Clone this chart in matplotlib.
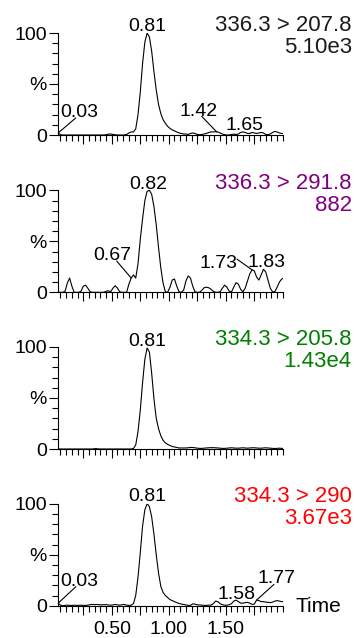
import numpy as np
import matplotlib
matplotlib.use('Agg')
import matplotlib.pyplot as plt
from matplotlib.ticker import MultipleLocator, FixedLocator

plt.rcParams['font.family'] = ['Liberation Sans', 'DejaVu Sans']

# ---------------- data ----------------
time = [0.03, 0.05, 0.07, 0.09, 0.11, 0.13, 0.15, 0.17, 0.19, 0.21,
        0.23, 0.25, 0.27, 0.29, 0.31, 0.33, 0.35, 0.37, 0.39, 0.41,
        0.43, 0.45, 0.47, 0.49, 0.51, 0.53, 0.55, 0.57, 0.59, 0.61,
        0.63, 0.65, 0.67, 0.69, 0.71, 0.73, 0.75, 0.77, 0.79, 0.81,
        0.83, 0.85, 0.87, 0.89, 0.91, 0.93, 0.95, 0.97, 0.99, 1.01,
        1.03, 1.05, 1.07, 1.09, 1.11, 1.13, 1.15, 1.17, 1.19, 1.21,
        1.23, 1.25, 1.27, 1.29, 1.31, 1.33, 1.35, 1.37, 1.39, 1.41,
        1.43, 1.45, 1.47, 1.49, 1.51, 1.53, 1.55, 1.57, 1.59, 1.61,
        1.63, 1.65, 1.67, 1.69, 1.71, 1.73, 1.75, 1.77, 1.79, 1.81,
        1.83, 1.85, 1.87, 1.89, 1.91, 1.93, 1.95, 1.97, 1.99, 2.01]

trace_207 = [2, 0.3, 0, 0, 0, 0, 0, 0, 0, 0,
             0, 0, 0, 0, 0, 0, 0, 0, 0, 0,
             0, 0.3, 0.8, 1, 0.6, 0.2, 0, 0, 0, 0,
             0.5, 2, 3, 3, 6, 20, 42, 70, 91, 100,
             96, 82, 62, 44, 30, 21, 15, 11.5, 8.5, 6.5,
             5, 4, 3, 2, 1.5, 1, 1, 0.5, 1.5, 2,
             1.5, 0.5, 0.3, 0.5, 1, 1.5, 2.5, 3, 3, 3.2,
             3, 2, 1, 0.3, 0, 0, 0.5, 0.8, 0.5, 1,
             2.5, 3, 2.5, 1.5, 1.5, 2.5, 2, 1.5, 2, 2.5,
             2, 0.5, 0.3, 1, 2.5, 3.5, 3, 2, 1.5, 1.5]

trace_291 = [0, 0, 0, 1, 9, 14, 6, 0, 0, 0,
             1, 6, 7, 4, 0.5, 0, 0, 0, 0, 0,
             0, 1, 1.5, 0.5, 4, 6.5, 4, 0.5, 0, 0,
             0, 8, 14, 17, 14, 28, 52, 72, 90, 99,
             100, 96, 84, 66, 44, 24, 9, 0.5, 0, 5,
             12, 13, 6, 0.5, 0, 2, 11, 16, 14, 6,
             0.5, 0, 0, 2, 4.5, 5, 4.5, 3, 1, 0,
             0, 0.5, 4, 7, 5, 1, 0.5, 5, 9.5, 8,
             3, 0.5, 4, 11, 18, 22, 21, 15, 12, 17,
             22.5, 20, 12, 4, 0.5, 0.5, 5, 10, 13, 14]

trace_205 = [0, 0, 0, 0, 0, 0, 0, 0, 0, 0,
             0, 0, 0, 0, 0, 0, 0.3, 0.3, 0, 0,
             0, 0, 0, 0, 0, 0, 0, 0, 0, 0,
             0, 0, 0, 0.5, 4, 17, 38, 65, 88, 99,
             95, 74, 49, 30, 20, 13, 8.5, 6, 4.5, 3.5,
             2.5, 2, 1.5, 1, 1, 1, 1, 1.2, 1.5, 1.5,
             1.2, 0.8, 0.6, 0.6, 0.8, 1, 1.2, 1.3, 1.3, 1.2,
             1, 0.8, 0.6, 0.6, 0.8, 1, 1.2, 1, 0.8, 0.8,
             1, 1.2, 1, 0.8, 1, 1.2, 1.2, 1, 0.8, 0.8,
             1, 1.2, 1, 0.8, 0.6, 0.5, 0.6, 0.8, 0.6, 0.5]

trace_290 = [2.5, 0.5, 0, 0.3, 0.5, 0.3, 0.3, 0.5, 0.3, 0.3,
             0.5, 0.3, 0.3, 0.5, 1, 1.3, 1, 1.2, 1, 0.8,
             1, 1, 0.7, 0.5, 0.8, 1.2, 0.8, 0.5, 1, 1.2,
             0.5, 0.3, 0.5, 2, 10, 28, 52, 78, 94, 100,
             97, 87, 70, 50, 32, 19, 13, 10, 8, 6,
             5, 4, 3, 2.2, 1.6, 1.2, 0.8, 0.3, 0.3, 1.8,
             1.5, 0.8, 0.8, 0.5, 0.3, 0.3, 0.5, 0.5, 2, 4.5,
             4, 2, 1, 0.5, 0.5, 1, 2, 4.5, 5.5, 4,
             2.5, 2.5, 3, 3.3, 2.5, 1.3, 1.5, 5.5, 5, 4,
             4, 3.5, 3.3, 3, 3.5, 4.5, 5, 4.5, 4, 4]

traces = [trace_207, trace_291, trace_205, trace_290]
transitions = ["336.3 > 207.8", "336.3 > 291.8", "334.3 > 205.8", "334.3 > 290"]
intensities = ["5.10e3", "882", "1.43e4", "3.67e3"]
header_colors = ["#1a1a1a", "#800080", "#008000", "#ff0000"]

# peak labels: (text, retention time)
peak_labels = [
    [("0.81", 0.81), ("0.03", 0.03), ("1.42", 1.42), ("1.65", 1.65)],
    [("0.82", 0.82), ("0.67", 0.67), ("1.73", 1.73), ("1.83", 1.83)],
    [("0.81", 0.81)],
    [("0.81", 0.81), ("0.03", 0.03), ("1.58", 1.58), ("1.77", 1.77)],
]
# layout: label text offset (px) and optional leader-line end offset (px)
label_layout = [
    [((0, 2), None), ((21, 16), (17.5, 15)), ((-18, 16), (-15, 15.5)), ((2, 2), None)],
    [((0, 2), None), ((-19, 18), (-14.5, 17)), ((-33.7, 2.3), (-15, 10.7)), ((3, 2), None)],
    [((0, 2), None)],
    [((0, 2.5), None), ((21, 17), (17.7, 16.5)), ((2, 2), None), ((20, 17), (17.4, 15.7))],
]

xtick_major = [0.25, 0.50, 0.75, 1.00, 1.25, 1.50, 1.75]
xtick_labels = ["", "0.50", "", "1.00", "", "1.50", ""]

# ---------------- figure ----------------
W, H = 356, 638
fig = plt.figure(figsize=(W / 100, H / 100), dpi=100)
zero_px = [135, 292.3, 449, 605.7]
panel_h = 102
left_px, width_px = 58.2, 224.6

axes = []
for i in range(4):
    ax = fig.add_axes([left_px / W, 1 - zero_px[i] / H, width_px / W, panel_h / H])
    axes.append(ax)
    t = np.array(time)
    y = np.array(traces[i])
    ax.plot(t, y, color='black', lw=0.8, clip_on=True)
    ax.set_xlim(0.03, 2.0)
    ax.set_ylim(0, 100)
    for s in ['top', 'right']:
        ax.spines[s].set_visible(False)
    for s in ['left', 'bottom']:
        ax.spines[s].set_linewidth(0.8)
    ax.xaxis.set_major_locator(FixedLocator(xtick_major))
    ax.xaxis.set_minor_locator(MultipleLocator(0.05))
    ax.yaxis.set_major_locator(FixedLocator([0, 50, 100]))
    ax.yaxis.set_minor_locator(MultipleLocator(10))
    ax.set_yticklabels(["0", "%", "100"])
    if i == 3:
        ax.set_xticklabels(xtick_labels)
    else:
        ax.set_xticklabels([""] * len(xtick_major))
    ax.tick_params(axis='both', which='major', direction='out', length=6.5, width=0.8,
                   labelsize=14)
    ax.tick_params(axis='both', which='minor', direction='out', length=4, width=0.8)
    ax.tick_params(axis='y', which='major', pad=1.8)
    ax.tick_params(axis='x', which='major', pad=4.5)

    ax.text(1.307, 1.015, transitions[i], transform=ax.transAxes, ha='right',
            va='baseline', fontsize=16, color=header_colors[i])
    ax.text(1.307, 0.80, intensities[i], transform=ax.transAxes, ha='right',
            va='baseline', fontsize=16, color=header_colors[i])

    for (txt, rt), (toff, loff) in zip(peak_labels[i], label_layout[i]):
        v = float(np.interp(rt, t, y))
        ax.annotate(txt, xy=(rt, v), xytext=toff, textcoords='offset pixels',
                    ha='center', va='baseline', fontsize=14, annotation_clip=False)
        if loff is not None:
            ax.annotate('', xy=(rt, v), xytext=loff, textcoords='offset pixels',
                        annotation_clip=False,
                        arrowprops=dict(arrowstyle='-', lw=0.8, color='black',
                                        shrinkA=0, shrinkB=0))

axes[3].text(1.0 + (295 - (left_px + width_px)) / width_px, -6 / panel_h, "Time",
             transform=axes[3].transAxes, ha='left', va='baseline', fontsize=15)

fig.savefig("out.png", dpi=100)
